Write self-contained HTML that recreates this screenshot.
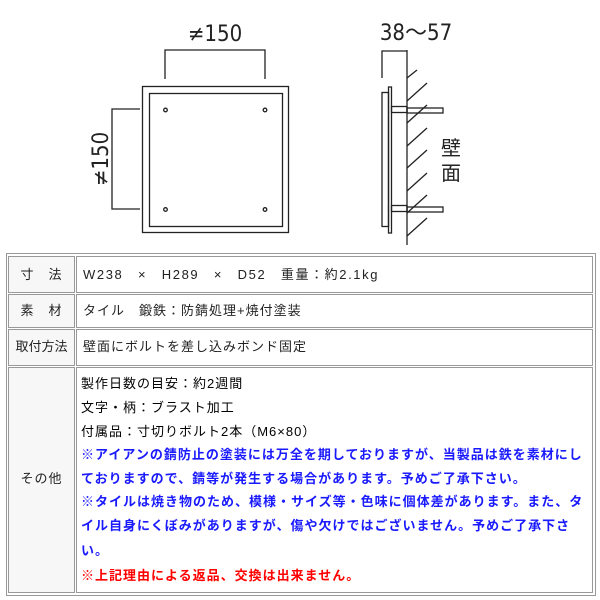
<!DOCTYPE html>
<html><head><meta charset="utf-8"><style>
body{margin:0;background:#fff;width:600px;height:600px;position:relative;overflow:hidden;font-family:"Liberation Sans","Noto Sans CJK JP",sans-serif}
.c{position:absolute;box-sizing:border-box;border:1px solid #999;font-size:13px;color:#222;letter-spacing:1px;white-space:nowrap}
.l{background:#f7f7f7;text-align:center}
.v{background:#fff;padding-left:6px}
.t{position:absolute;left:81px;font-size:13px;white-space:nowrap;letter-spacing:1px}
.b{color:#1a1aff;font-weight:bold}
.r{color:#f00;font-weight:bold}
</style></head><body>
<svg width="600" height="250" style="position:absolute;left:0;top:0" xmlns="http://www.w3.org/2000/svg">
<g fill="none" stroke="#222" stroke-width="1.3">
<rect x="142.5" y="86.5" width="146" height="146"/>
<rect x="149.5" y="93.5" width="133" height="133"/>
<polyline points="165,79 165,50 265,50 265,79"/>
<polyline points="140,109 112,109 112,209 140,209"/>
<circle cx="165.5" cy="110" r="1.8"/><circle cx="265" cy="110" r="1.8"/>
<circle cx="165.5" cy="209.5" r="1.8"/><circle cx="265" cy="209.5" r="1.8"/>
<line x1="407" y1="50" x2="407" y2="245"/>
<polyline points="382,78 382,51 407,51"/>
<rect x="388.5" y="87" width="3" height="146"/>
<rect x="382" y="92.5" width="6.5" height="134"/>
<rect x="391.5" y="106.5" width="15.5" height="6"/>
<rect x="407" y="108" width="36" height="5"/>
<rect x="391.5" y="205.5" width="15.5" height="6"/>
<rect x="407" y="207" width="36" height="5"/>
<line x1="407" y1="78" x2="417" y2="70"/>
<line x1="407" y1="101" x2="427" y2="83"/>
<line x1="407" y1="123" x2="427" y2="105"/>
<line x1="407" y1="146" x2="427" y2="128"/>
<line x1="407" y1="168" x2="427" y2="150"/>
<line x1="407" y1="191" x2="427" y2="173"/>
<line x1="407" y1="213" x2="427" y2="195"/>
<line x1="407" y1="236" x2="427" y2="218"/>
</g>
<g font-family="'DejaVu Sans Condensed','Liberation Sans Narrow','Liberation Sans','Noto Sans CJK JP',sans-serif" fill="#222" font-size="22">
<text x="215" y="41" text-anchor="middle">≠150</text>
<text x="416" y="40" text-anchor="middle">38～57</text>
<text transform="translate(108,159) rotate(-90)" text-anchor="middle">≠150</text>
<text x="451" y="155" text-anchor="middle" font-size="20">壁</text>
<text x="451" y="180" text-anchor="middle" font-size="20">面</text>
</g>
</svg>
<div style="position:absolute;left:6px;top:253px;width:590px;height:343px;border:1px solid #999;box-sizing:border-box"></div>
<div class="c l" style="left:8px;top:256px;width:67px;height:37px;line-height:35px">寸　法</div>
<div class="c v" style="left:76px;top:256px;width:517px;height:37px;line-height:35px;letter-spacing:1.6px">W238　×　H289　×　D52　重量：約2.1kg</div>
<div class="c l" style="left:8px;top:294px;width:67px;height:34px;line-height:32px">素　材</div>
<div class="c v" style="left:76px;top:294px;width:517px;height:34px;line-height:32px">タイル　鍛鉄：防錆処理+焼付塗装</div>
<div class="c l" style="left:8px;top:329px;width:67px;height:37px;line-height:33px;letter-spacing:0">取付方法</div>
<div class="c v" style="left:76px;top:329px;width:517px;height:37px;line-height:33px">壁面にボルトを差し込みボンド固定</div>
<div class="c l" style="left:8px;top:367px;width:67px;height:226px;line-height:222px">その他</div>
<div class="c v" style="left:76px;top:367px;width:517px;height:226px"></div>
<div class="t" style="top:373px">製作日数の目安：約2週間</div>
<div class="t" style="top:397px">文字・柄：ブラスト加工</div>
<div class="t" style="top:421px">付属品：寸切りボルト2本（M6×80）</div>
<div class="t b" style="top:444px">※アイアンの錆防止の塗装には万全を期しておりますが、当製品は鉄を素材にし</div>
<div class="t b" style="top:468px">ておりますので、錆等が発生する場合があります。予めご了承下さい。</div>
<div class="t b" style="top:491px">※タイルは焼き物のため、模様・サイズ等・色味に個体差があります。また、タ</div>
<div class="t b" style="top:515px">イル自身にくぼみがありますが、傷や欠けではございません。予めご了承下さ</div>
<div class="t b" style="top:540px">い。</div>
<div class="t r" style="top:565px">※上記理由による返品、交換は出来ません。</div>
</body></html>
